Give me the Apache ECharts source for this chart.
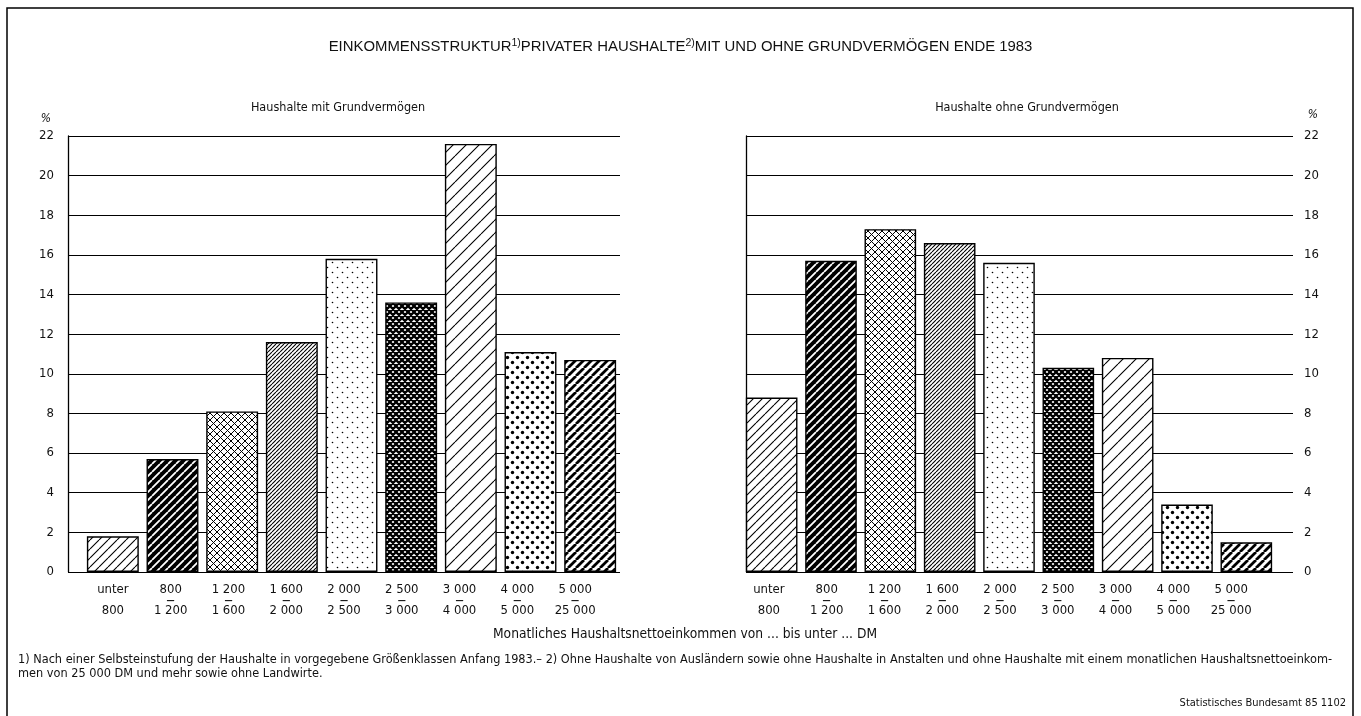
<!DOCTYPE html>
<html>
<head>
<meta charset="utf-8">
<script src="https://cdn.jsdelivr.net/npm/echarts@6/dist/echarts.min.js"></script>
<style>html,body{margin:0;padding:0;background:#fff;}#c{width:1361px;height:716px;}</style>
</head>
<body>
<div id="c"></div>
<script>
// ---- data ----
const categoriesFrom = ['unter', '800', '1 200', '1 600', '2 000', '2 500', '3 000', '4 000', '5 000'];
const categoriesTo   = ['800', '1 200', '1 600', '2 000', '2 500', '3 000', '4 000', '5 000', '25 000'];
const categories = categoriesFrom.map((f, i) => f === 'unter' ? 'unter 800' : f + ' – ' + categoriesTo[i]);
const withProperty    = [1.8, 5.7, 8.1, 11.6, 15.8, 13.6, 21.6, 11.1, 10.7];
const withoutProperty = [8.8, 15.7, 17.3, 16.6, 15.6, 10.3, 10.8, 3.4, 1.5];
const yMin = 0, yMax = 22, yStep = 2;

const titleParts = ['EINKOMMENSSTRUKTUR', '1)', 'PRIVATER HAUSHALTE', '2)', 'MIT UND OHNE GRUNDVERMÖGEN ENDE 1983'];
const subtitleLeft = 'Haushalte mit Grundvermögen';
const subtitleRight = 'Haushalte ohne Grundvermögen';
const axisTitle = 'Monatliches Haushaltsnettoeinkommen von ... bis unter ... DM';
const footnote1 = '1) Nach einer Selbsteinstufung der Haushalte in vorgegebene Größenklassen Anfang 1983.– 2) Ohne Haushalte von Ausländern sowie ohne Haushalte in Anstalten und ohne Haushalte mit einem monatlichen Haushaltsnettoeinkom-';
const footnote2 = 'men von 25 000 DM und mehr sowie ohne Landwirte.';
const source = 'Statistisches Bundesamt 85 1102';

// ---- patterns ----
const NARROW = '"Liberation Sans Narrow", "DejaVu Sans Condensed", "Liberation Sans", sans-serif';
const WIDE = '"Liberation Sans", "DejaVu Sans", sans-serif';
function tile(p, bg, draw) {
  const c = document.createElement('canvas');
  c.width = p; c.height = p;
  const g = c.getContext('2d');
  g.fillStyle = bg; g.fillRect(0, 0, p, p);
  draw(g, p);
  return { image: c, repeat: 'repeat' };
}
function diag(p, lw, bg, fg, both) {
  return tile(p, bg, (g) => {
    g.strokeStyle = fg; g.lineWidth = lw; g.beginPath();
    for (const k of [-p, 0, p]) {
      g.moveTo(k, p); g.lineTo(k + p, 0);
      if (both) { g.moveTo(k, 0); g.lineTo(k + p, p); }
    }
    g.stroke();
  });
}
function dots(p, r) {
  return tile(p, '#fff', (g) => {
    g.fillStyle = '#000';
    const pts = [[p / 4, p / 4], [3 * p / 4, 3 * p / 4]];
    for (const [x, y] of pts) { g.beginPath(); g.arc(x, y, r, 0, Math.PI * 2); g.fill(); }
  });
}
const patterns = [
  diag(9, 1.1, '#fff', '#000'),       // unter 800
  diag(8, 1.8, '#000', '#fff'),       // 800-1200 (black, white stripes)
  diag(7, 1.0, '#fff', '#000', true), // 1200-1600 crosshatch
  diag(4, 1.1, '#fff', '#000'),       // 1600-2000 dense
  dots(10, 0.8),                      // 2000-2500 sparse dots
  diag(6, 2.3, '#fff', '#000', true), // 2500-3000 dark crosshatch
  diag(13, 1.1, '#fff', '#000'),      // 3000-4000 sparse
  dots(10, 1.7),                      // 4000-5000 heavy dots
  diag(8, 2.8, '#fff', '#000')        // 5000-25000 thick stripes
];

function barData(vals) {
  return vals.map((v, i) => ({ value: v, itemStyle: { color: patterns[i] } }));
}
function labelFmt(val, idx) {
  if (categoriesFrom[idx] === 'unter') return '{a|unter}\n{d| }\n{a|' + categoriesTo[idx] + '}';
  return '{a|' + categoriesFrom[idx] + '}\n{d|—}\n{a|' + categoriesTo[idx] + '}';
}
const labelRich = {
  a: { fontFamily: NARROW, fontSize: 13, color: '#111', lineHeight: 14 },
  d: { fontFamily: NARROW, fontSize: 9, fontWeight: 'bold', color: '#111', lineHeight: 7 }
};

const TOP = 136, H = 436;
const grids = [
  { left: 68, top: TOP, width: 552, height: H },   // 0 left frame
  { left: 83, top: TOP, width: 537, height: H },   // 1 left bars
  { left: 84, top: TOP, width: 520, height: H },   // 2 left labels
  { left: 746, top: TOP, width: 547, height: H },  // 3 right frame
  { left: 742, top: TOP, width: 534, height: H },  // 4 right bars
  { left: 740, top: TOP, width: 520, height: H }   // 5 right labels
];
const hiddenY = (gi) => ({ type: 'value', gridIndex: gi, min: yMin, max: yMax, interval: yStep, show: false });
const frameY = (gi, pos, margin) => ({
  type: 'value', gridIndex: gi, position: pos, min: yMin, max: yMax, interval: yStep,
  axisLine: { show: true, lineStyle: { color: '#000', width: 1.3 } },
  axisTick: { show: false },
  axisLabel: { margin: margin, fontFamily: NARROW, fontSize: 13, color: '#111' },
  splitLine: { show: true, lineStyle: { color: '#000', width: 1.2 } }
});
const hiddenValX = (gi) => ({ type: 'value', gridIndex: gi, min: 0, max: 1, show: false });
const barX = (gi) => ({ type: 'category', gridIndex: gi, data: categories, show: false });
const labelX = (gi) => ({
  type: 'category', gridIndex: gi, data: categories,
  axisLine: { show: false }, axisTick: { show: false },
  axisLabel: { interval: 0, margin: 11, formatter: labelFmt, rich: labelRich, align: 'center' }
});

const barStyle = { borderColor: '#000', borderWidth: 1.4 };

const option = {
  backgroundColor: '#fff',
  animation: false,
  title: [
    {
      text: '{m|' + titleParts[0] + '}{s|' + titleParts[1] + '}{m|' + titleParts[2] + '}{s|' + titleParts[3] + '}{m|' + titleParts[4] + '}',
      left: 'center', top: 33,
      textStyle: { fontWeight: 'normal', rich: {
        m: { fontFamily: WIDE, fontSize: 14.9, fontWeight: 'normal', color: '#111', lineHeight: 18 },
        s: { fontFamily: WIDE, fontSize: 10.5, fontWeight: 'normal', color: '#111', lineHeight: 18, padding: [0, 0, 7, 0] }
      } }
    },
    { text: subtitleLeft, left: 333, top: 96, textAlign: 'center',
      textStyle: { fontFamily: NARROW, fontSize: 12.5, fontWeight: 'normal', color: '#111' } },
    { text: subtitleRight, left: 1022, top: 96, textAlign: 'center',
      textStyle: { fontFamily: NARROW, fontSize: 12.5, fontWeight: 'normal', color: '#111' } }
  ],
  grid: grids,
  xAxis: [hiddenValX(0), barX(1), labelX(2), hiddenValX(3), barX(4), labelX(5)],
  yAxis: [frameY(0, 'left', 14), hiddenY(1), hiddenY(2), frameY(3, 'right', 11), hiddenY(4), hiddenY(5)],
  series: [
    { type: 'bar', xAxisIndex: 1, yAxisIndex: 1, data: barData(withProperty), barCategoryGap: '13%', itemStyle: barStyle, z: 3 },
    { type: 'bar', xAxisIndex: 4, yAxisIndex: 4, data: barData(withoutProperty), barCategoryGap: '13%', itemStyle: barStyle, z: 3 }
  ],
  graphic: [
    { type: 'rect', shape: { x: 7, y: 8, width: 1346, height: 730 }, style: { fill: 'none', stroke: '#000', lineWidth: 1.5 }, silent: true },
    { type: 'text', x: 46, y: 119, style: { text: '%', fontFamily: NARROW, fontSize: 12, fontStyle: 'italic', fill: '#111', textAlign: 'center', textVerticalAlign: 'middle' } },
    { type: 'text', x: 1313, y: 115, style: { text: '%', fontFamily: NARROW, fontSize: 12, fontStyle: 'italic', fill: '#111', textAlign: 'center', textVerticalAlign: 'middle' } },
    { type: 'text', x: 685, y: 634, style: { text: axisTitle, fontFamily: NARROW, fontSize: 13.7, fill: '#111', textAlign: 'center', textVerticalAlign: 'middle' } },
    { type: 'text', x: 18, y: 660, style: { text: footnote1, fontFamily: NARROW, fontSize: 12.6, fill: '#111', textAlign: 'left', textVerticalAlign: 'middle' } },
    { type: 'text', x: 18, y: 674, style: { text: footnote2, fontFamily: NARROW, fontSize: 12.6, fill: '#111', textAlign: 'left', textVerticalAlign: 'middle' } },
    { type: 'text', x: 1346, y: 703, style: { text: source, fontFamily: NARROW, fontSize: 11, fill: '#111', textAlign: 'right', textVerticalAlign: 'middle' } }
  ]
};
const chart = echarts.init(document.getElementById('c'), null, { renderer: 'canvas' });
chart.setOption(option);
</script>
</body>
</html>
